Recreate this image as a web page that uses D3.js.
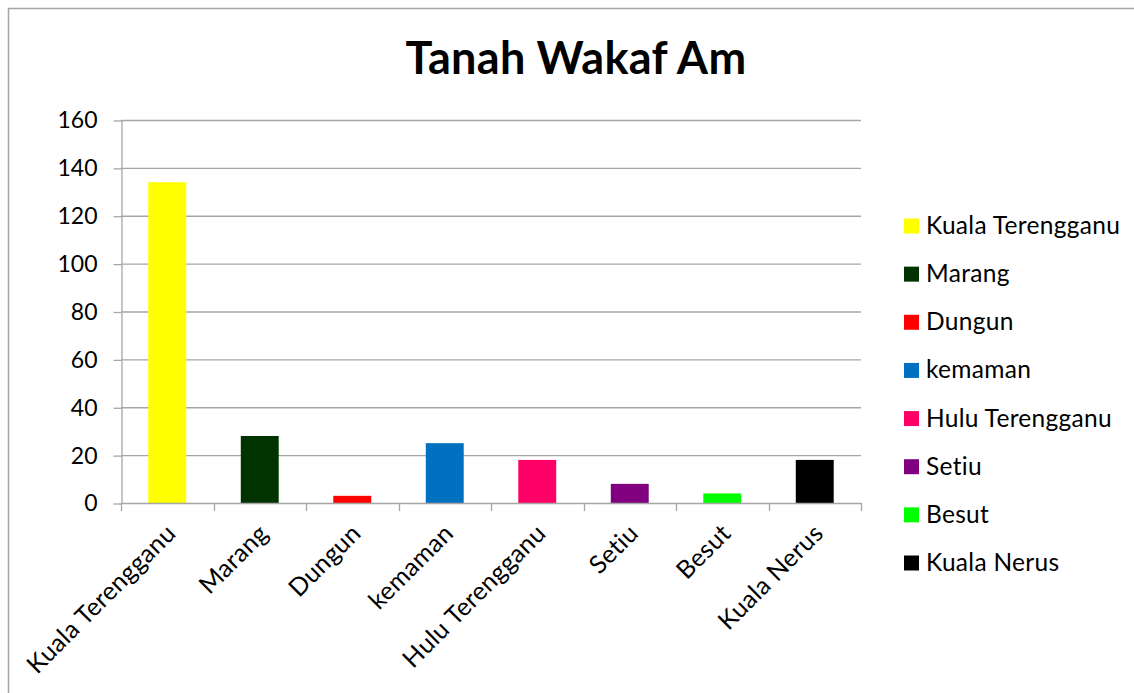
<!DOCTYPE html>
<html>
<head>
<meta charset="utf-8">
<script src="https://cdn.jsdelivr.net/npm/d3@7"></script>
<style>
  html, body { margin: 0; padding: 0; background: #fff; }
  svg { display: block; font-family: Lato, "Open Sans", sans-serif; }
</style>
</head>
<body>
<div id="chart"></div>
<script>
// ----- Data -----
const districts = ["Kuala Terengganu", "Marang", "Dungun", "kemaman",
  "Hulu Terengganu", "Setiu", "Besut", "Kuala Nerus"];
const counts = [134, 28, 3, 25, 18, 8, 4, 18];
const colors = ["#FFFF00", "#003300", "#FF0000", "#0070C0",
  "#FF0066", "#800080", "#00FF00", "#000000"];
const yTicks = [0, 20, 40, 60, 80, 100, 120, 140, 160];

const W = 1134, H = 693;
const plot = { left: 121, right: 861, top: 120, bottom: 503 };

const svg = d3.select("#chart").append("svg")
  .attr("width", W).attr("height", H);

// chart frame (runs off the right/bottom edge like the screenshot)
svg.append("rect")
  .attr("x", 8.5).attr("y", 8.5)
  .attr("width", W + 20).attr("height", H + 20)
  .attr("fill", "#fff").attr("stroke", "#a6a6a6").attr("stroke-width", 1.5);

// title
svg.append("text")
  .attr("x", 576).attr("y", 74)
  .attr("text-anchor", "middle")
  .attr("font-size", 45).attr("font-weight", 700)
  .attr("letter-spacing", 0.3)
  .attr("fill", "#000")
  .text("Tanah Wakaf Am");

// scales
const x = d3.scaleBand()
  .domain(districts)
  .range([plot.left, plot.right])
  .paddingInner(0.59).paddingOuter(0.295);

const y = d3.scaleLinear()
  .domain([0, 160])
  .range([plot.bottom, plot.top]);

// gridlines
svg.append("g")
  .selectAll("line").data(yTicks.filter(d => d > 0))
  .join("line")
  .attr("x1", plot.left).attr("x2", plot.right)
  .attr("y1", d => y(d) + 0.5).attr("y2", d => y(d) + 0.5)
  .attr("stroke", "#a6a6a6").attr("stroke-width", 1.3);

// y axis
const yAxisG = svg.append("g")
  .attr("transform", `translate(${plot.left + 0.5},0.5)`)
  .call(d3.axisLeft(y).tickValues(yTicks).tickSize(8).tickPadding(16).tickSizeOuter(0));
yAxisG.selectAll("text")
  .attr("font-size", 23).attr("fill", "#000")
  .attr("font-family", "Lato, 'Open Sans', sans-serif");
yAxisG.selectAll("path, line").attr("stroke", "#a6a6a6").attr("stroke-width", 1.3);

// bars
svg.append("g")
  .selectAll("rect").data(districts)
  .join("rect")
  .attr("x", d => x(d))
  .attr("width", x.bandwidth())
  .attr("y", (d, i) => y(counts[i]))
  .attr("height", (d, i) => plot.bottom - y(counts[i]))
  .attr("fill", (d, i) => colors[i]);

// x axis: ticks at category boundaries
const step = x.step();
const boundaries = d3.range(districts.length + 1).map(i => plot.left + i * step);
const xAxisG = svg.append("g");
xAxisG.append("line")
  .attr("x1", plot.left).attr("x2", plot.right)
  .attr("y1", plot.bottom + 0.5).attr("y2", plot.bottom + 0.5)
  .attr("stroke", "#a6a6a6").attr("stroke-width", 1.3);
xAxisG.selectAll("line.tick").data(boundaries)
  .join("line").attr("class", "tick")
  .attr("x1", d => Math.round(d) + 0.5).attr("x2", d => Math.round(d) + 0.5)
  .attr("y1", plot.bottom).attr("y2", plot.bottom + 8)
  .attr("stroke", "#a6a6a6").attr("stroke-width", 1.3);
xAxisG.selectAll("text").data(districts)
  .join("text")
  .attr("transform", d => `translate(${x(d) + x.bandwidth() / 2 + 10},${plot.bottom + 32}) rotate(-45)`)
  .attr("text-anchor", "end")
  .attr("font-size", 25).attr("letter-spacing", 0.3).attr("fill", "#000")
  .text(d => d);

// legend
const legend = svg.append("g").attr("transform", "translate(904,0)");
const rowY = d3.scalePoint().domain(districts).range([226, 563]);
const items = legend.selectAll("g").data(districts).join("g")
  .attr("transform", d => `translate(0,${rowY(d)})`);
items.append("rect")
  .attr("x", 0).attr("y", -7.5).attr("width", 15).attr("height", 15)
  .attr("fill", (d, i) => colors[i]);
items.append("text")
  .attr("x", 22).attr("y", 8)
  .attr("font-size", 24.5).attr("letter-spacing", 0.3).attr("fill", "#000")
  .text(d => d);
</script>
</body>
</html>
